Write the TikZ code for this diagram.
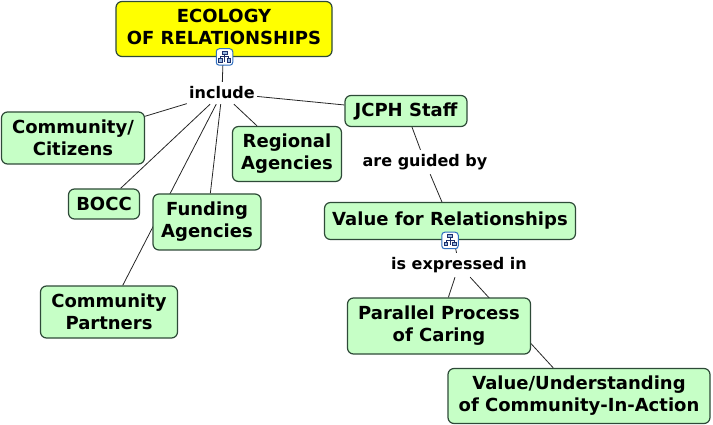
\documentclass[tikz,border=0pt]{standalone}
\usepackage{fontspec}
\setmainfont{DejaVu Sans}
\usetikzlibrary{backgrounds}
\definecolor{conceptgreen}{HTML}{C6FFC6}
\definecolor{conceptline}{HTML}{2E4A38}
\definecolor{rootyellow}{HTML}{FFFF00}
\definecolor{iconblue}{HTML}{2F6FC0}
\definecolor{icondark}{HTML}{1C2F6B}

\begin{document}
\begin{tikzpicture}[
	x=1pt, y=-1pt,
	concept/.style={rectangle, rounded corners=6pt, draw=conceptline, line width=1.2pt, fill=conceptgreen, align=center, inner sep=0pt, font=\fontsize{18}{22}\selectfont\bfseries},
	linking/.style={rectangle, align=center, inner sep=0pt, font=\fontsize{16}{18}\selectfont\bfseries},
	link/.style={line width=0.8pt, black!85},
	iconbox/.style={rectangle, rounded corners=3pt, draw=iconblue, line width=1pt, fill=white, minimum size=16.5pt, inner sep=0pt},
	treeicon/.pic={
		\draw[icondark, line width=0.8pt, fill=iconblue!50] (-2.5,-6) rectangle (2.5,-3);
		\draw[icondark, line width=0.8pt] (0,-3) -- (0,5) (-4,-0.5) -- (4,-0.5) (-4,-0.5) -- (-4,1.5) (4,-0.5) -- (4,1.5);
		\draw[icondark, line width=0.8pt, fill=iconblue!50] (-6,1.5) rectangle (-2.5,5);
		\draw[icondark, line width=0.8pt, fill=iconblue!50] (2.5,1.5) rectangle (6,5);
	}
	]
	
	\useasboundingbox (0,0) rectangle (713,425);
	
	% Nodes
	\node[concept, fill=rootyellow, text depth=4pt, minimum width=216pt, minimum height=55pt] (ecology) at (224,29) {ECOLOGY \\ OF RELATIONSHIPS};
	\node[concept, minimum width=143pt, minimum height=52pt] (citizens) at (73,138) {Community/ \\ Citizens};
	\node[concept, minimum width=71pt, minimum height=30pt] (bocc) at (104,204) {BOCC};
	\node[concept, minimum width=108pt, minimum height=56pt] (funding) at (207,222) {Funding \\ Agencies};
	\node[concept, minimum width=109pt, minimum height=55pt] (regional) at (287,154) {Regional \\ Agencies};
	\node[concept, minimum width=137pt, minimum height=52pt] (partners) at (109,312) {Community \\ Partners};
	\node[concept, minimum width=122pt, minimum height=31pt] (staff) at (406,111) {JCPH Staff};
	\node[concept, minimum width=251pt, minimum height=37pt] (value) at (450,221) {Value for Relationships};
	\node[concept, minimum width=183pt, minimum height=56pt] (caring) at (439,326) {Parallel Process \\ of Caring};
	\node[concept, minimum width=262pt, minimum height=55pt] (action) at (579,396) {Value/Understanding \\ of Community-In-Action};
	
	% Labels
	\node[linking, minimum width=70pt, minimum height=22pt] (include) at (222,93) {include};
	\node[linking, minimum width=126pt, minimum height=24pt] (guided) at (425,162) {are guided by};
	\node[linking, minimum width=138pt, minimum height=24pt] (expressed) at (459,265) {is expressed in};
	
	% Icons
	\node[iconbox] (ecologyicon) at (224.5,57) {};
	\node[iconbox] (valueicon) at (450,240.5) {};
	\pic at (ecologyicon) {treeicon};
	\pic at (valueicon) {treeicon};
	
	% Arrows
	\begin{scope}[on background layer]
		\draw[link] (ecology) -- (include);
		\draw[link] (include) -- (citizens);
		\draw[link] (include) -- (bocc);
		\draw[link] (include) -- (funding);
		\draw[link] (include) -- (regional);
		\draw[link] (include) -- (partners);
		\draw[link] (include) -- (staff);
		\draw[link] (staff) -- (guided);
		\draw[link] (guided) -- (value);
		\draw[link] (value) -- (expressed);
		\draw[link] (expressed) -- (caring);
		\draw[link] (expressed) -- (action);
	\end{scope}
\end{tikzpicture}
\end{document}
